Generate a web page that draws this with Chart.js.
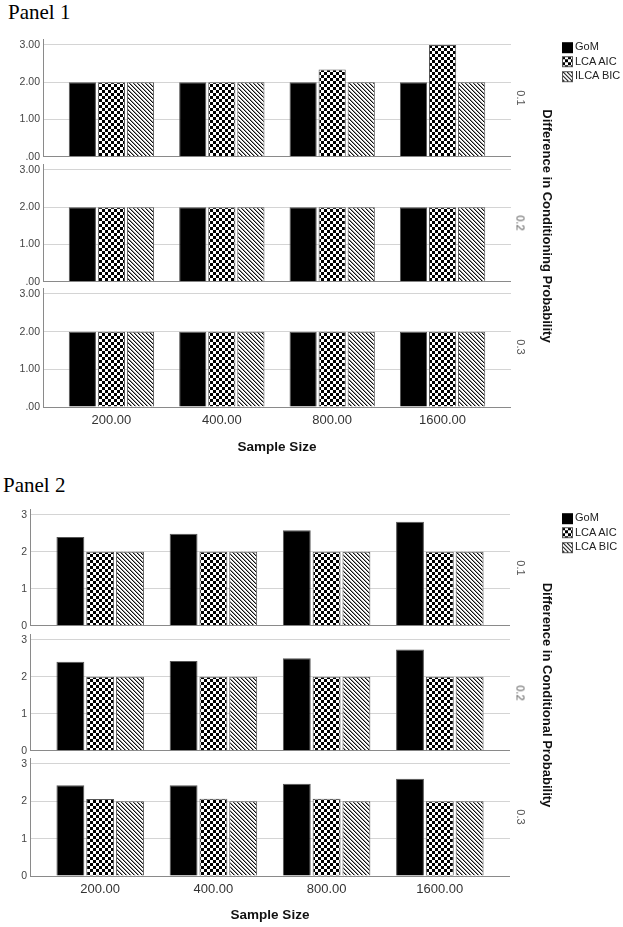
<!DOCTYPE html>
<html>
<head>
<meta charset="utf-8">
<script src="https://cdn.jsdelivr.net/npm/chart.js@4.4.1/dist/chart.umd.min.js"></script>
<style>
  html, body { margin: 0; padding: 0; background: #fff; }
  #page { position: relative; width: 623px; height: 927px; overflow: hidden;
          font-family: "Liberation Sans", Arial, sans-serif; }
  canvas.row { position: absolute; left: 0; }
  .txt { position: absolute; white-space: nowrap; line-height: 1; }
  .center { transform: translate(-50%, -50%); }
  .vert { transform: translate(-50%, -50%) rotate(90deg); }
  .ptitle { font-family: "Liberation Serif", "Times New Roman", serif; font-size: 21px; color: #000; }
  .rowlab { font-size: 11px; color: #555; }
  .vtitle { font-size: 13px; font-weight: bold; color: #111; }
  .xtitle { font-size: 13.5px; font-weight: bold; color: #111; }
  .leg { position: absolute; font-size: 11px; color: #222; transform: translate(0, -50%); white-space: nowrap; line-height: 1; }
  .leg canvas { vertical-align: middle; margin-right: 2px; }
</style>
</head>
<body>
<div id="page"></div>
<script>
// categories and tick labels
const categories = ["200.00", "400.00", "800.00", "1600.00"];
const rowLabels = ["0.1", "0.2", "0.3"];
const ticks1 = [".00", "1.00", "2.00", "3.00"];
const ticks2 = ["0", "1", "2", "3"];
const names1 = ["GoM", "LCA AIC", "ILCA BIC"];
const names2 = ["GoM", "LCA AIC", "LCA BIC"];

// Panel 1 values, one row per difference in conditioning probability
const p1GoM = [[2, 2, 2, 2], [2, 2, 2, 2], [2, 2, 2, 2]];
const p1AIC = [[2, 2, 2.34, 3], [2, 2, 2, 2], [2, 2, 2, 2]];
const p1BIC = [[2, 2, 2, 2], [2, 2, 2, 2], [2, 2, 2, 2]];

// Panel 2 values
const p2GoM = [[2.40, 2.49, 2.58, 2.81], [2.41, 2.43, 2.50, 2.74], [2.43, 2.43, 2.47, 2.60]];
const p2AIC = [[2, 2, 2, 2], [2, 2, 2, 2], [2.06, 2.07, 2.07, 2.00]];
const p2BIC = [[2, 2, 2, 2], [2, 2, 2, 2], [2, 2, 2, 2]];

const page = document.getElementById("page");

function addText(cls, text, x, y, css) {
  const d = document.createElement("div");
  d.className = "txt " + cls;
  d.textContent = text;
  d.style.left = x + "px";
  d.style.top = y + "px";
  if (css) Object.assign(d.style, css);
  page.appendChild(d);
  return d;
}

function checkerTile() {
  const t = document.createElement("canvas");
  t.width = 6; t.height = 6;
  const c = t.getContext("2d");
  c.fillStyle = "#fff"; c.fillRect(0, 0, 6, 6);
  c.fillStyle = "#000"; c.fillRect(0, 0, 3, 3); c.fillRect(3, 3, 3, 3);
  return t;
}
function hatchTile() {
  const t = document.createElement("canvas");
  t.width = 4; t.height = 4;
  const c = t.getContext("2d");
  c.fillStyle = "#fff"; c.fillRect(0, 0, 4, 4);
  for (let i = 0; i < 4; i++) {
    c.fillStyle = "#111"; c.fillRect(i, i, 1, 1);
    c.fillStyle = "#999"; c.fillRect((i + 1) % 4, i, 1, 1);
  }
  return t;
}
const tiles = [null, checkerTile(), hatchTile()];

function fillFor(ctx, k) {
  return k === 0 ? "#000" : ctx.createPattern(tiles[k], "repeat");
}

const toXY = vals => vals.map((v, i) => ({ x: i, y: v }));

const panels = [
  { title: "Panel 1", titleX: 8, titleY: 12, series: [p1GoM, p1AIC, p1BIC], names: names1, ticks: ticks1,
    axisX: 43, right: 511, rowTops: [44, 169, 293], rowH: 114,
    vtitle: "Difference in Conditioning Probability", legendY: 47, xtitleY: 447 },
  { title: "Panel 2", titleX: 3, titleY: 485, series: [p2GoM, p2AIC, p2BIC], names: names2, ticks: ticks2,
    axisX: 30, right: 510, rowTops: [514, 639, 763], rowH: 113,
    vtitle: "Difference in Conditional Probability", legendY: 518, xtitleY: 915 }
];

const W = 516;
const yMax = 3.15;

function makeRow(p, r) {
  const last = r === 2;
  const areaH = Math.round(p.rowH * yMax / 3);
  const padTop = 8;
  const padBottom = last ? 0 : 8;
  const xH = last ? 28 : 0;
  const rowBottom = p.rowTops[r] + p.rowH;
  const cv = document.createElement("canvas");
  cv.className = "row";
  cv.width = W;
  cv.height = padTop + areaH + xH + padBottom;
  cv.style.top = (rowBottom - areaH - padTop) + "px";
  cv.style.width = W + "px";
  cv.style.height = cv.height + "px";
  page.appendChild(cv);
  const ctx = cv.getContext("2d");

  new Chart(ctx, {
    type: "bar",
    data: {
      datasets: p.series.map((s, k) => ({
        label: p.names[k],
        data: toXY(s[r]),
        backgroundColor: fillFor(ctx, k),
        borderColor: "#555",
        borderWidth: 1
      }))
    },
    options: {
      responsive: false,
      animation: false,
      layout: { padding: { top: padTop, bottom: padBottom, left: 0, right: W - p.right } },
      plugins: { legend: { display: false }, tooltip: { enabled: false } },
      datasets: { bar: { categoryPercentage: 0.79, barPercentage: 0.935 } },
      scales: {
        x: {
          type: "linear", min: -0.62, max: 3.62, offset: false, display: last,
          grid: { display: false, drawTicks: false, offset: false }, border: { display: false },
          afterBuildTicks: s => { s.ticks = categories.map((c, i) => ({ value: i })); },
          afterFit: s => { s.height = xH; },
          ticks: { padding: 6, autoSkip: false, maxRotation: 0, color: "#333",
                   font: { family: "Liberation Sans", size: 13 },
                   callback: v => categories[v] }
        },
        y: {
          min: 0, max: yMax,
          afterBuildTicks: s => { s.ticks = p.ticks.map((t, i) => ({ value: i })); },
          afterFit: s => { s.width = p.axisX; },
          grid: { drawTicks: false, lineWidth: 1,
                  color: c => (c.tick && c.tick.value === 0) ? "#8a8a8a" : "#d4d4d4" },
          border: { color: "#8a8a8a" },
          ticks: { padding: 3, color: "#444", font: { family: "Liberation Sans", size: 10.5 },
                   callback: v => p.ticks[v] }
        }
      }
    }
  });

  addText("rowlab vert", rowLabels[r], 520, p.rowTops[r] + p.rowH / 2 - 3);
}

panels.forEach(p => {
  addText("ptitle", p.title, p.titleX, p.titleY, { transform: "translate(0,-50%)" });
  for (let r = 0; r < 3; r++) makeRow(p, r);
  const top = p.rowTops[0], bottom = p.rowTops[2] + p.rowH;
  addText("vtitle vert", p.vtitle, 547, (top + bottom) / 2);
  addText("xtitle center", "Sample Size", (p.axisX + p.right) / 2, p.xtitleY);

  // legend
  p.names.forEach((n, k) => {
    const item = document.createElement("div");
    item.className = "leg";
    item.style.left = "562px";
    item.style.top = (p.legendY + k * 14.5) + "px";
    const sw = document.createElement("canvas");
    sw.width = 11; sw.height = 11;
    const sc = sw.getContext("2d");
    sc.fillStyle = fillFor(sc, k);
    sc.fillRect(0, 0, 11, 11);
    if (k > 0) { sc.strokeStyle = "#555"; sc.strokeRect(0.5, 0.5, 10, 10); }
    item.appendChild(sw);
    item.appendChild(document.createTextNode(n));
    page.appendChild(item);
  });
});
</script>
</body>
</html>
